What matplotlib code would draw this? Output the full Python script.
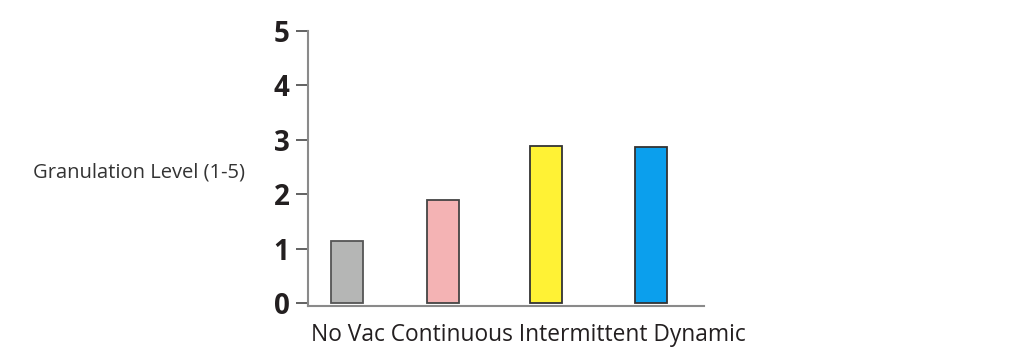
import matplotlib
matplotlib.use("Agg")
import matplotlib.pyplot as plt

categories = ["No Vac", "Continuous", "Intermittent", "Dynamic"]
values = [1.15, 1.89, 2.89, 2.86]
colors = ["#b5b6b5", "#f4b3b4", "#fff235", "#0b9fed"]
edge_colors = ["#555555", "#444444", "#333333", "#333333"]
yticks = [0, 1, 2, 3, 4, 5]

fig = plt.figure(figsize=(10.24, 3.61), dpi=100)
ax = fig.add_axes([0.3005, 0.1532, 0.387, 0.762])

offsets = [0.0, -0.05, -0.04, 0.0]
xpos = [i + o for i, o in enumerate(offsets)]
ax.bar(xpos, values, width=0.316, color=colors, edgecolor=edge_colors, linewidth=1.3)

ax.set_xlim(-0.387, 3.524)
ax.set_ylim(-0.045, 5.0)
ax.set_yticks(yticks)
ax.set_yticklabels([str(t) for t in yticks], fontsize=20, fontweight="bold",
                   family=["Open Sans", "DejaVu Sans"], color="#231f20")
ax.set_xticks([])
for s in ["top", "right"]:
    ax.spines[s].set_visible(False)
for s in ["left", "bottom"]:
    ax.spines[s].set_color("#8a8a8a")
    ax.spines[s].set_linewidth(1.5)
ax.tick_params(axis="y", length=9, width=1.3, color="#555555", pad=4)

fig.text(0.0322, 0.5235, "Granulation Level (1-5)", fontsize=14.5, color="#333333",
         family=["Open Sans", "DejaVu Sans"], ha="left", va="center")
fig.text(0.516, 0.072, " ".join(categories), fontsize=16.4, color="#231f20",
         family=["Open Sans", "DejaVu Sans"], ha="center", va="center")

fig.savefig("out.png", dpi=100)
